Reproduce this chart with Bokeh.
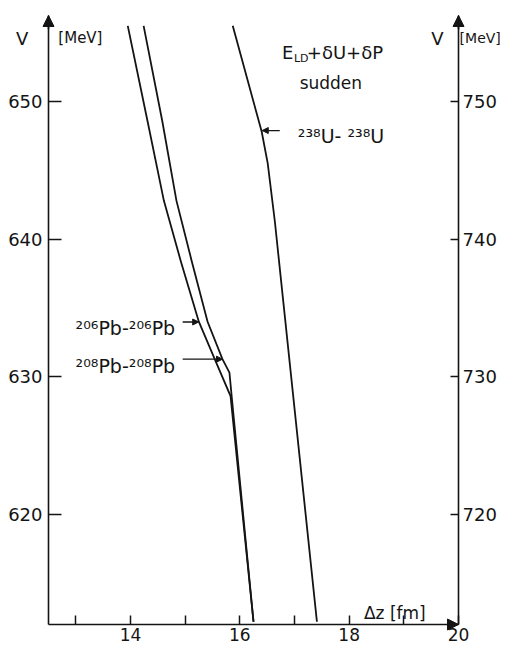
from bokeh.plotting import figure
from bokeh.models import Range1d, LinearAxis, FixedTicker, Label, Arrow, NormalHead
from bokeh.embed import file_html
from bokeh.resources import INLINE

# ---- data ----
pb206_dz = [13.95, 14.31, 14.61, 14.92, 15.25, 15.56, 15.83, 16.25]
pb206_v = [655.5, 648.6, 642.8, 638.4, 634.0, 631.1, 628.6, 612.2]

pb208_dz = [14.24, 14.58, 14.84, 15.12, 15.41, 15.68, 15.81, 15.85, 16.25]
pb208_v = [655.5, 648.6, 642.8, 638.4, 634.0, 631.3, 630.3, 628.6, 612.2]

u238_dz = [15.87, 16.40, 16.51, 16.64, 17.41]
u238_v = [655.5, 647.8, 645.5, 641.3, 612.2]

x_major_ticks = [14, 16, 18, 20]
x_minor_ticks = [13, 15, 17, 19]
v_ticks = [620, 630, 640, 650]
v_offset = 100  # right axis = V + 100
v_right_ticks = [t + v_offset for t in v_ticks]

# axis extents
x_lo, x_hi = 12.5, 20.0
v_lo, v_hi = 612.0, 656.25

FONT = "DejaVu Sans"
INK = "#141414"

W, H = 500, 644
PX_PER_FM = 54.67
PX_PER_MEV = 13.763
AX_LEFT_PX, AX_BOTTOM_PX = 48, 624

view_x0 = x_lo - AX_LEFT_PX / PX_PER_FM
view_x1 = view_x0 + W / PX_PER_FM
view_v1 = v_lo + AX_BOTTOM_PX / PX_PER_MEV
view_v0 = view_v1 - H / PX_PER_MEV

p = figure(width=W, height=H,
           x_range=Range1d(view_x0, view_x1), y_range=Range1d(view_v0, view_v1),
           output_backend="svg", toolbar_location=None,
           min_border=0, min_border_left=0, min_border_right=0,
           min_border_top=0, min_border_bottom=0,
           x_axis_location=None, y_axis_location=None)
p.outline_line_color = None
p.grid.visible = False
p.background_fill_color = "white"
p.border_fill_color = "white"

p.extra_y_ranges = {"r": Range1d(view_v0 + v_offset, view_v1 + v_offset)}


def style_axis(ax, tick_in, font_size, standoff):
    ax.axis_line_color = INK
    ax.axis_line_width = 1.6
    ax.major_tick_line_color = INK
    ax.major_tick_line_width = 1.5
    ax.minor_tick_line_color = INK
    ax.minor_tick_line_width = 1.5
    ax.major_tick_in = tick_in
    ax.major_tick_out = 0
    ax.minor_tick_in = 0
    ax.minor_tick_out = 0
    ax.major_label_text_font = FONT
    ax.major_label_text_font_size = font_size
    ax.major_label_text_color = INK
    ax.major_label_standoff = standoff


ya = LinearAxis(ticker=FixedTicker(ticks=v_ticks), fixed_location=x_lo, bounds=(v_lo, v_hi))
style_axis(ya, 13, "18px", 6)
p.add_layout(ya, "left")

ra = LinearAxis(y_range_name="r", ticker=FixedTicker(ticks=v_right_ticks),
                fixed_location=x_hi, bounds=(v_lo + v_offset, v_hi + v_offset))
style_axis(ra, 8, "18px", 4)
p.add_layout(ra, "right")

xa = LinearAxis(ticker=FixedTicker(ticks=x_major_ticks, minor_ticks=x_minor_ticks),
                fixed_location=v_lo, bounds=(x_lo, x_hi))
style_axis(xa, 9, "17px", 3)
xa.minor_tick_in = 9
p.add_layout(xa, "below")

# ---- curves ----
for dz, v in [(pb206_dz, pb206_v), (pb208_dz, pb208_v), (u238_dz, u238_v)]:
    p.line(dz, v, line_color=INK, line_width=1.8, line_join="miter")

# ---- axis arrow heads ----
def head(x0, y0, x1, y1, size=11):
    p.add_layout(Arrow(end=NormalHead(size=size, fill_color=INK, line_color=INK, line_width=1),
                       x_start=x0, y_start=y0, x_end=x1, y_end=y1,
                       line_color=INK, line_width=1.6))

head(x_lo, v_hi - 1.0, x_lo, v_hi)
head(x_hi, v_hi - 1.0, x_hi, v_hi)
head(x_hi - 0.2, v_lo, x_hi, v_lo)

# ---- texts ----
def lab(x, y, text, size="18px", align="left", baseline="alphabetic"):
    p.add_layout(Label(x=x, y=y, text=text, text_font=FONT, text_font_size=size,
                       text_color=INK, text_align=align, text_baseline=baseline))

lab(12.02, 654.58, "V", "18px", "center", "middle")
lab(12.68, 654.58, "[MeV]", "15px", "left", "middle")
lab(19.615, 654.58, "V", "18px", "center", "middle")
lab(20.02, 654.58, "[MeV]", "14px", "left", "middle")

lab(16.77, 653.57, "E", "18px")
lab(16.99, 653.13, "LD", "11px")
lab(17.225, 653.57, "+\u03b4U+\u03b4P", "18px")
lab(17.665, 651.38, "sudden", "17px", "center")

lab(17.06, 647.52, "\u00b2\u00b3\u2078U- \u00b2\u00b3\u2078U", "19px")
lab(12.995, 633.54, "\u00b2\u2070\u2076Pb-\u00b2\u2070\u2076Pb", "19px")
lab(12.995, 630.77, "\u00b2\u2070\u2078Pb-\u00b2\u2070\u2078Pb", "19px")
lab(18.27, 612.85, "\u0394z [fm]", "17px")

# ---- pointer arrows ----
def pointer(x0, x1, y):
    p.add_layout(Arrow(end=NormalHead(size=6, fill_color=INK, line_color=INK, line_width=1),
                       x_start=x0, y_start=y, x_end=x1, y_end=y,
                       line_color=INK, line_width=1.3))

pointer(16.73, 16.41, 647.89)
pointer(14.954, 15.247, 633.98)
pointer(14.954, 15.683, 631.28)

open("out.html", "w").write(file_html(p, INLINE))
